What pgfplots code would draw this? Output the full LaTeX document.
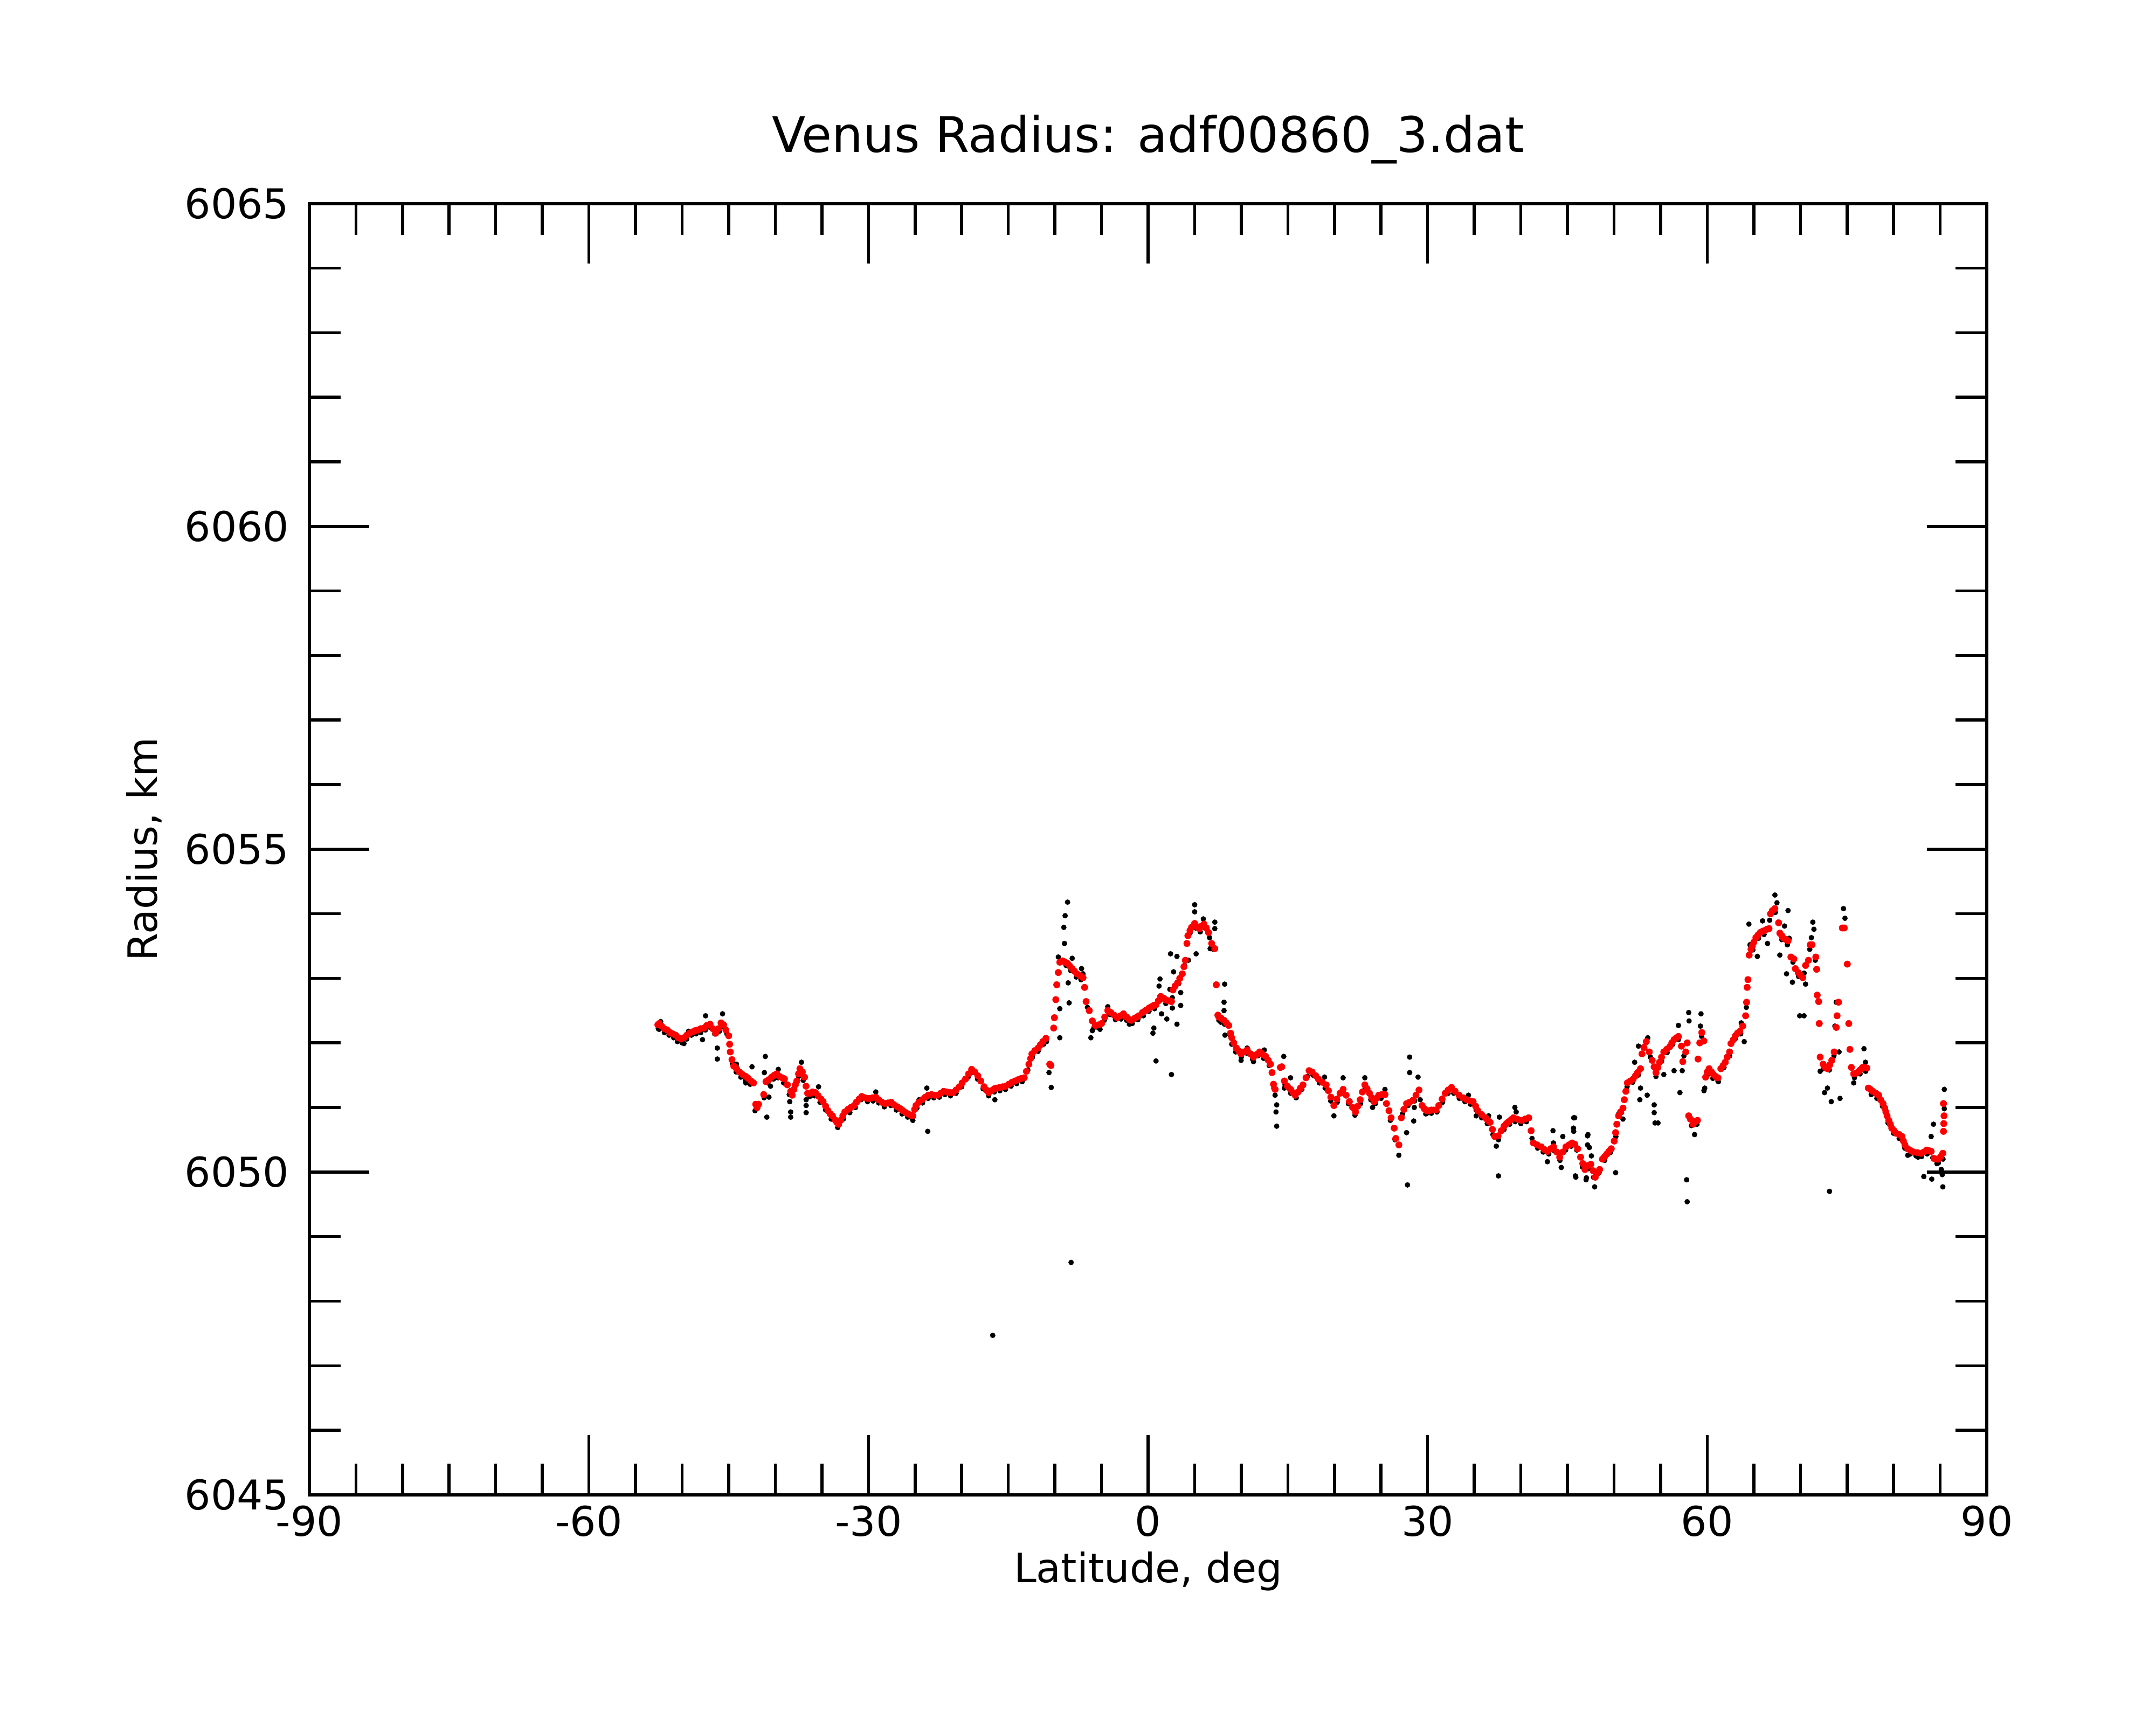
\documentclass[border=0pt]{standalone}
\usepackage{fontspec}
\setmainfont{DejaVu Sans}
\usepackage{pgfplots}
\pgfplotsset{compat=1.18}
\begin{document}
\begin{tikzpicture}
\path[use as bounding box] (-103.3pt,-76.7pt) rectangle ++(720pt,576pt);
\begin{axis}[
  at={(0pt,0pt)}, anchor=south west,
  scale only axis, width=560.2pt, height=431.3pt,
  xmin=-90, xmax=90, ymin=6045, ymax=6065,
  xtick={-90,-60,-30,0,30,60,90},
  xticklabels={-90,-60,-30,0,30,60,90},
  ytick={6045,6050,6055,6060,6065},
  yticklabels={6045,6050,6055,6060,6065},
  minor x tick num=5, minor y tick num=4,
  xtick pos=both, ytick pos=both,
  tick align=inside,
  major tick length=20pt, minor tick length=10.5pt,
  tick style={line width=1pt, black},
  axis line style={line width=1pt},
  ticklabel style={font=\fontsize{13.7}{16}\selectfont},
  yticklabel style={xshift=-3.2pt},
  xlabel={Latitude, deg}, ylabel={Radius, km},
  xlabel style={font=\fontsize{13.5}{16}\selectfont, at={(axis description cs:0.5,-0.0677)}, anchor=base},
  ylabel style={font=\fontsize{13.5}{16}\selectfont, at={(axis description cs:-0.0907,0.5)}, anchor=base, rotate=0},
  title={Venus Radius: adf00860\_3.dat},
  title style={font=\fontsize{16.4}{20}\selectfont, at={(axis description cs:0.5,1.026)}, anchor=base},
]
% raw measurements (black)
\addplot[only marks, mark=*, mark size=0.85pt, mark options={line width=0.1pt, draw=black, fill=black}] table {
x y
-52.55 6052.22
-52.3 6052.33
-51.9 6052.16
-51.4 6052.12
-50.9 6052.08
-50.5 6052.02
-50.0 6052.00
-49.5 6052.06
-49.0 6052.12
-48.5 6052.14
-48.0 6052.16
-47.5 6052.20
-47.0 6052.24
-46.5 6052.14
-46.0 6052.18
-45.7 6052.26
-45.2 6052.14
-44.6 6051.68
-44.2 6051.55
-43.7 6051.47
-43.2 6051.42
-42.7 6051.36
-42.0 6050.98
-41.2 6051.15
-40.8 6051.38
-40.2 6051.44
-39.7 6051.46
-39.1 6051.38
-38.5 6051.20
-37.5 6051.48
-37.0 6051.42
-36.3 6051.17
-35.8 6051.18
-35.2 6051.08
-34.6 6050.96
-34.0 6050.82
-33.3 6050.69
-32.7 6050.82
-32.0 6050.92
-31.4 6051.00
-30.8 6051.12
-30.1 6051.09
-29.5 6051.10
-28.9 6051.07
-28.3 6051.01
-27.6 6051.03
-27.0 6050.96
-26.4 6050.90
-25.8 6050.85
-25.3 6050.82
-24.8 6050.99
-24.2 6051.07
-23.6 6051.14
-23.0 6051.15
-22.4 6051.16
-21.8 6051.20
-21.2 6051.18
-20.6 6051.22
-20.0 6051.32
-19.3 6051.47
-18.9 6051.54
-18.3 6051.44
-17.7 6051.29
-17.1 6051.18
-16.5 6051.24
-15.9 6051.26
-15.3 6051.28
-14.7 6051.33
-14.1 6051.37
-13.5 6051.40
-12.9 6051.58
-12.4 6051.78
-11.8 6051.87
-11.2 6051.98
-10.9 6052.02
-8.8 6053.20
-8.3 6053.12
-7.7 6053.02
-7.2 6052.98
-6.5 6052.55
-5.8 6052.24
-5.3 6052.23
-4.7 6052.35
-4.1 6052.44
-3.5 6052.36
-2.9 6052.37
-2.3 6052.35
-1.7 6052.30
-1.1 6052.36
-0.5 6052.42
0.1 6052.49
0.7 6052.53
1.3 6052.66
1.9 6052.61
2.6 6052.70
3.3 6052.92
3.9 6053.20
4.5 6053.70
5.1 6053.78
5.6 6053.72
6.1 6053.78
6.6 6053.63
7.0 6053.45
7.6 6052.35
8.2 6052.29
8.8 6052.12
9.4 6051.86
10.0 6051.78
10.6 6051.84
11.2 6051.75
11.8 6051.80
12.4 6051.76
13.0 6051.65
13.5 6051.30
14.7 6051.35
15.3 6051.22
15.9 6051.15
16.5 6051.28
17.1 6051.48
17.7 6051.50
18.4 6051.38
19.0 6051.30
19.6 6051.10
20.3 6051.08
20.9 6051.22
21.5 6051.06
22.2 6050.88
22.8 6051.06
23.3 6051.30
23.9 6051.12
24.4 6051.06
25.0 6051.14
25.5 6051.06
26.0 6050.80
26.5 6050.50
27.3 6050.90
27.9 6051.03
28.6 6051.10
29.2 6051.12
29.8 6050.90
30.4 6050.91
31.0 6050.93
31.6 6051.08
32.2 6051.22
32.8 6051.22
33.4 6051.14
34.0 6051.09
34.6 6051.05
35.2 6050.96
35.8 6050.84
36.4 6050.75
37.0 6050.58
37.6 6050.50
38.2 6050.66
38.8 6050.74
39.4 6050.78
40.0 6050.75
40.6 6050.78
41.2 6050.52
41.8 6050.37
42.4 6050.31
43.0 6050.28
43.6 6050.33
44.2 6050.18
44.8 6050.34
45.4 6050.40
46.0 6050.34
46.6 6050.08
47.2 6050.05
47.8 6049.92
48.4 6049.99
49.0 6050.18
49.6 6050.30
50.2 6050.55
50.8 6050.92
51.4 6051.32
52.0 6051.39
52.6 6051.50
53.3 6051.92
53.9 6051.78
54.5 6051.48
55.1 6051.72
55.7 6051.85
56.3 6051.98
56.9 6052.05
57.5 6051.80
58.3 6050.72
58.9 6050.74
59.4 6052.10
60.0 6051.50
60.6 6051.45
61.2 6051.40
61.8 6051.62
62.4 6051.80
63.0 6052.06
63.6 6052.14
64.2 6052.55
64.9 6053.44
65.5 6053.62
66.1 6053.68
66.7 6053.90
67.3 6054.02
68.0 6053.60
68.6 6053.52
69.2 6053.25
69.8 6053.03
70.4 6053.08
71.0 6053.45
71.6 6053.28
72.5 6051.60
73.1 6051.58
73.6 6051.80
75.8 6051.46
76.4 6051.52
77.0 6051.56
77.6 6051.20
78.2 6051.14
78.8 6051.02
79.4 6050.76
80.0 6050.60
80.6 6050.52
81.2 6050.37
81.8 6050.28
82.4 6050.25
83.0 6050.24
83.6 6050.28
84.2 6050.22
84.8 6050.14
85.3 6050.20
-52.46 6052.21
-51.8 6052.18
-49.8 6051.99
-49.31 6052.18
-48.5 6052.20
-47.81 6052.05
-47.48 6052.42
-45.66 6052.45
-46.22 6051.92
-46.22 6051.75
-44.16 6051.67
-43.17 6051.38
-42.5 6051.63
-42.17 6050.95
-41.07 6051.79
-41.17 6051.54
-40.51 6051.33
-40.68 6051.16
-40.91 6050.85
-39.68 6051.59
-38.45 6051.09
-38.35 6050.93
-38.35 6050.85
-37.19 6051.70
-36.69 6051.12
-36.69 6051.03
-36.69 6050.92
-35.36 6051.32
-29.22 6051.24
-25.24 6050.80
-24.57 6051.12
-23.74 6051.30
-23.64 6050.63
-16.67 6047.47
-16.44 6051.12
-10.63 6051.54
-10.39 6051.31
-9.63 6053.33
-9.47 6052.08
-9.47 6052.53
-8.97 6053.54
-9.04 6053.79
-8.9 6053.97
-8.64 6054.18
-8.57 6052.93
-8.47 6052.62
-8.26 6048.60
-8.14 6053.31
-7.14 6053.15
-6.98 6053.07
-6.14 6052.08
-5.98 6052.19
-5.15 6052.21
-4.32 6052.56
-2.0 6052.29
5.0 6054.14
5.0 6054.03
5.93 6053.92
7.16 6053.87
7.16 6053.77
6.66 6053.46
5.16 6053.38
4.33 6053.28
2.41 6053.38
3.1 6053.34
2.74 6053.10
1.28 6052.99
1.18 6052.88
2.34 6052.83
3.5 6052.78
3.5 6052.58
2.61 6052.54
1.45 6052.45
2.01 6052.37
3.1 6052.29
0.62 6052.23
0.52 6052.15
0.85 6051.72
2.51 6051.51
8.22 6052.91
8.15 6052.63
8.15 6052.50
8.25 6052.12
7.8 6052.32
8.98 6051.98
9.98 6051.73
10.64 6051.92
11.31 6051.71
12.47 6051.89
14.56 6051.79
14.63 6051.30
15.29 6051.46
13.63 6051.19
13.8 6051.04
13.73 6050.93
13.8 6050.71
18.94 6051.47
19.94 6050.87
20.93 6051.46
23.26 6051.46
24.09 6051.00
25.42 6051.28
26.91 6050.26
27.74 6050.61
27.84 6049.80
28.07 6051.78
28.07 6051.54
28.97 6051.47
28.57 6051.00
28.5 6050.79
29.9 6050.91
34.38 6051.19
35.21 6050.87
36.54 6050.87
37.37 6050.40
37.6 6049.94
37.7 6050.85
39.36 6051.00
39.5 6050.93
42.85 6050.16
43.45 6050.64
43.5 6050.45
44.34 6050.07
44.5 6050.55
45.67 6050.84
45.67 6050.63
45.9 6049.92
47.16 6050.56
47.16 6050.42
47.0 6049.88
45.78 6050.84
45.65 6050.68
45.85 6049.94
47.2 6050.58
47.35 6050.38
47.57 6050.25
47.04 6049.91
47.92 6049.77
50.17 6049.99
50.5 6050.90
50.96 6050.82
52.21 6051.70
52.62 6051.95
52.84 6051.30
52.77 6051.12
53.56 6051.19
53.62 6052.08
54.31 6051.04
54.31 6050.92
54.72 6050.76
54.4 6050.76
55.34 6051.51
56.44 6051.57
56.91 6052.27
57.07 6051.23
57.32 6051.57
58.01 6052.47
58.05 6052.34
59.33 6052.45
59.27 6052.26
57.79 6049.88
57.85 6049.54
58.64 6050.58
59.73 6051.30
59.65 6051.26
61.15 6051.41
63.65 6052.31
63.97 6052.02
64.47 6053.84
64.59 6053.52
65.38 6053.34
65.94 6053.89
66.47 6053.54
67.26 6054.29
67.48 6054.17
68.67 6054.05
68.29 6053.81
68.8 6053.62
67.79 6053.36
68.51 6053.07
69.14 6052.94
69.92 6052.42
70.39 6052.42
70.55 6052.91
71.33 6053.87
71.18 6053.63
71.45 6053.76
72.12 6051.56
72.59 6051.23
72.9 6051.30
73.31 6051.09
74.25 6051.14
73.84 6052.63
73.7 6052.26
74.15 6051.86
73.12 6049.70
74.62 6054.08
74.78 6053.93
75.72 6051.38
76.82 6051.91
76.98 6051.70
81.52 6050.26
82.62 6050.23
83.24 6049.93
84.09 6049.89
84.03 6050.55
84.28 6050.74
84.65 6050.13
85.12 6050.04
85.22 6049.96
85.28 6049.77
85.44 6051.28
85.44 6050.98
};
% smoothed profile (red)
\addplot[only marks, mark=*, mark size=1.1pt, mark options={line width=0.1pt, draw=red, fill=red}] table {
x y
-52.6 6052.28
-52.46 6052.30
-52.2 6052.26
-51.9 6052.22
-51.6 6052.20
-51.3 6052.16
-51.0 6052.14
-50.7 6052.12
-50.4 6052.08
-50.1 6052.06
-49.8 6052.08
-49.5 6052.12
-49.2 6052.15
-48.9 6052.17
-48.6 6052.19
-48.3 6052.20
-48.0 6052.22
-47.65 6052.23
-47.35 6052.27
-47.0 6052.29
-46.7 6052.22
-46.4 6052.15
-46.1 6052.22
-45.82 6052.31
-45.55 6052.28
-45.3 6052.20
-45.0 6052.11
-44.9 6051.98
-44.83 6051.86
-44.65 6051.74
-44.45 6051.64
-44.16 6051.60
-43.85 6051.55
-43.5 6051.51
-43.17 6051.48
-42.9 6051.45
-42.6 6051.41
-42.34 6051.38
-42.1 6051.05
-41.95 6051.00
-41.8 6051.05
-41.24 6051.20
-41.0 6051.40
-40.7 6051.43
-40.4 6051.47
-40.1 6051.50
-39.85 6051.52
-39.55 6051.48
-39.25 6051.46
-39.02 6051.44
-38.7 6051.35
-38.35 6051.25
-38.19 6051.19
-38.0 6051.28
-37.85 6051.35
-37.69 6051.41
-37.5 6051.52
-37.36 6051.60
-37.1 6051.55
-36.86 6051.47
-36.7 6051.33
-36.53 6051.22
-36.25 6051.22
-36.0 6051.24
-35.7 6051.23
-35.4 6051.18
-35.1 6051.13
-34.87 6051.09
-34.6 6051.02
-34.35 6050.95
-34.1 6050.90
-33.87 6050.87
-33.6 6050.81
-33.4 6050.77
-33.21 6050.74
-33.0 6050.80
-32.75 6050.87
-32.54 6050.93
-32.2 6050.97
-31.9 6051.00
-31.55 6051.03
-31.3 6051.08
-31.0 6051.13
-30.72 6051.17
-30.4 6051.15
-30.1 6051.14
-29.89 6051.14
-29.55 6051.15
-29.22 6051.16
-28.9 6051.12
-28.55 6051.08
-28.22 6051.06
-27.9 6051.07
-27.56 6051.08
-27.25 6051.04
-26.9 6051.01
-26.57 6050.98
-26.3 6050.95
-26.0 6050.92
-25.74 6050.90
-25.45 6050.88
-25.24 6050.87
-25.05 6050.97
-24.9 6051.03
-24.6 6051.08
-24.24 6051.12
-23.9 6051.16
-23.58 6051.19
-23.25 6051.20
-22.9 6051.19
-22.58 6051.19
-22.25 6051.22
-21.92 6051.25
-21.6 6051.24
-21.25 6051.23
-20.92 6051.23
-20.6 6051.27
-20.26 6051.32
-19.95 6051.38
-19.59 6051.44
-19.25 6051.52
-18.93 6051.59
-18.6 6051.55
-18.27 6051.49
-17.95 6051.41
-17.6 6051.32
-17.35 6051.27
-17.1 6051.23
-16.8 6051.26
-16.5 6051.29
-16.27 6051.30
-15.95 6051.31
-15.6 6051.32
-15.28 6051.33
-14.95 6051.36
-14.6 6051.39
-14.28 6051.41
-13.95 6051.43
-13.6 6051.45
-13.29 6051.46
-13.05 6051.56
-12.79 6051.67
-12.6 6051.76
-12.46 6051.83
-12.15 6051.88
-11.79 6051.92
-11.55 6051.97
-11.29 6052.02
-10.96 6052.07
-10.55 6051.67
-10.42 6051.65
-10.13 6052.23
-10.05 6052.39
-9.9 6052.67
-9.8 6052.90
-9.63 6053.09
-9.47 6053.25
-9.15 6053.27
-8.9 6053.25
-8.64 6053.23
-8.4 6053.19
-8.14 6053.15
-7.9 6053.11
-7.64 6053.07
-7.3 6053.04
-6.98 6053.01
-6.81 6052.86
-6.65 6052.64
-6.31 6052.50
-5.98 6052.34
-5.65 6052.27
-5.3 6052.28
-4.99 6052.30
-4.65 6052.40
-4.32 6052.50
-4.0 6052.47
-3.65 6052.43
-3.3 6052.39
-2.95 6052.42
-2.64 6052.45
-2.3 6052.40
-2.0 6052.36
-1.81 6052.35
-1.45 6052.38
-1.2 6052.40
-0.98 6052.42
-0.6 6052.47
-0.3 6052.50
-0.15 6052.51
0.1 6052.54
0.35 6052.56
0.6 6052.58
0.85 6052.59
1.1 6052.65
1.35 6052.72
1.7 6052.69
2.01 6052.66
2.3 6052.65
2.51 6052.64
2.67 6052.82
2.9 6052.88
3.17 6052.93
3.4 6053.00
3.67 6053.07
3.85 6053.18
4.0 6053.28
4.17 6053.54
4.27 6053.66
4.5 6053.74
4.67 6053.79
5.0 6053.85
5.25 6053.80
5.5 6053.77
5.75 6053.81
6.0 6053.84
6.25 6053.78
6.49 6053.71
6.82 6053.54
7.16 6053.46
7.32 6052.90
7.49 6052.43
7.6 6052.40
7.85 6052.38
8.15 6052.35
8.4 6052.31
8.65 6052.27
8.85 6052.15
8.98 6052.08
9.2 6052.00
9.48 6051.92
9.75 6051.87
9.98 6051.83
10.3 6051.86
10.64 6051.89
11.0 6051.83
11.31 6051.78
11.65 6051.82
11.97 6051.86
12.3 6051.82
12.63 6051.79
12.9 6051.73
13.13 6051.67
13.3 6051.54
13.46 6051.36
13.63 6051.28
14.2 6051.62
14.35 6051.63
14.63 6051.41
14.95 6051.33
15.29 6051.28
15.55 6051.23
15.79 6051.19
16.1 6051.24
16.35 6051.30
16.62 6051.35
16.95 6051.46
17.28 6051.57
17.6 6051.55
18.0 6051.49
18.28 6051.44
18.7 6051.39
19.11 6051.35
19.35 6051.26
19.61 6051.16
19.94 6051.03
20.25 6051.13
20.6 6051.22
20.93 6051.28
21.25 6051.19
21.6 6051.09
21.95 6051.00
22.26 6050.93
22.5 6051.02
22.76 6051.12
23.0 6051.24
23.26 6051.35
23.5 6051.29
23.76 6051.22
24.0 6051.15
24.25 6051.09
24.5 6051.14
24.75 6051.19
25.1 6051.20
25.42 6051.20
25.58 6051.06
25.85 6050.95
26.08 6050.84
26.41 6050.68
26.58 6050.52
26.91 6050.42
27.18 6050.84
27.45 6050.97
27.74 6051.06
28.05 6051.08
28.4 6051.11
28.75 6051.19
29.07 6051.27
29.4 6051.03
29.65 6050.98
29.9 6050.95
30.15 6050.95
30.4 6050.96
30.65 6050.96
30.9 6050.96
31.2 6051.03
31.55 6051.13
31.89 6051.22
32.2 6051.27
32.56 6051.31
32.95 6051.25
33.38 6051.19
33.8 6051.15
34.21 6051.12
34.55 6051.10
34.88 6051.09
35.15 6051.02
35.38 6050.95
35.8 6050.89
36.21 6050.84
36.45 6050.80
36.7 6050.77
36.95 6050.66
37.2 6050.55
37.55 6050.56
37.9 6050.64
38.2 6050.71
38.45 6050.75
38.7 6050.78
38.95 6050.81
39.2 6050.84
39.6 6050.82
40.03 6050.80
40.45 6050.82
40.85 6050.84
41.1 6050.64
41.35 6050.45
41.75 6050.42
42.18 6050.39
42.5 6050.35
42.85 6050.32
43.2 6050.36
43.51 6050.39
43.85 6050.31
44.17 6050.23
44.5 6050.31
44.84 6050.39
45.16 6050.42
45.5 6050.45
45.78 6050.43
46.1 6050.36
46.41 6050.23
46.65 6050.13
46.88 6050.04
47.2 6050.10
47.51 6050.12
47.75 6050.02
47.98 6049.92
48.2 6049.98
48.45 6050.04
48.76 6050.20
49.0 6050.24
49.23 6050.28
49.45 6050.32
49.7 6050.36
50.02 6050.48
50.17 6050.61
50.3 6050.74
50.49 6050.87
50.7 6050.93
50.96 6050.99
51.1 6051.12
51.27 6051.25
51.43 6051.38
51.75 6051.41
52.05 6051.44
52.3 6051.49
52.52 6051.54
52.84 6051.60
53.0 6051.83
53.2 6051.93
53.46 6052.02
53.78 6051.86
54.09 6051.73
54.3 6051.63
54.5 6051.54
54.7 6051.62
54.88 6051.70
55.1 6051.78
55.34 6051.86
55.65 6051.90
55.97 6051.94
56.2 6052.00
56.44 6052.05
56.7 6052.08
56.91 6052.10
57.23 6051.95
57.38 6051.71
57.7 6051.86
57.85 6052.00
58.01 6050.87
58.2 6050.82
58.48 6050.74
58.7 6050.78
58.95 6050.80
59.01 6051.75
59.2 6052.00
59.42 6052.16
59.64 6052.03
59.83 6051.47
60.0 6051.55
60.2 6051.60
60.45 6051.55
60.67 6051.51
60.9 6051.48
61.15 6051.46
61.46 6051.60
61.7 6051.65
61.93 6051.70
62.15 6051.78
62.4 6051.86
62.55 6051.99
62.8 6052.05
63.02 6052.11
63.25 6052.15
63.5 6052.18
63.81 6052.26
64.12 6052.42
64.22 6052.63
64.28 6052.86
64.37 6052.98
64.5 6053.36
64.7 6053.45
64.84 6053.50
65.0 6053.56
65.22 6053.63
65.45 6053.67
65.69 6053.71
65.95 6053.73
66.16 6053.74
66.4 6053.76
66.63 6053.77
66.79 6054.00
67.0 6054.05
67.26 6054.08
67.66 6053.86
67.79 6053.70
68.0 6053.66
68.2 6053.62
68.45 6053.60
68.67 6053.58
68.98 6053.33
69.3 6053.30
69.45 6053.15
69.77 6053.09
70.0 6053.05
70.24 6053.01
70.55 6053.20
70.86 6053.28
71.05 6053.52
71.25 6053.52
71.65 6053.33
71.74 6053.14
71.8 6052.74
71.96 6052.64
72.02 6052.30
72.12 6051.78
72.43 6051.67
72.65 6051.62
72.9 6051.60
73.15 6051.66
73.37 6051.73
73.62 6051.86
73.84 6052.24
73.93 6052.42
74.09 6052.63
74.5 6053.78
74.7 6053.78
75.03 6053.22
75.19 6052.30
75.31 6051.90
75.47 6051.62
75.72 6051.52
75.95 6051.53
76.19 6051.55
76.4 6051.58
76.66 6051.62
76.9 6051.62
77.13 6051.61
77.29 6051.30
77.5 6051.28
77.76 6051.25
78.1 6051.22
78.39 6051.19
78.6 6051.12
78.86 6051.06
79.05 6050.99
79.17 6050.93
79.3 6050.87
79.48 6050.80
79.65 6050.74
79.8 6050.68
80.05 6050.64
80.27 6050.60
80.6 6050.58
80.9 6050.55
81.05 6050.48
81.21 6050.42
81.52 6050.36
81.85 6050.33
82.15 6050.31
82.55 6050.30
82.93 6050.29
83.25 6050.31
83.56 6050.34
83.8 6050.33
84.03 6050.32
84.34 6050.21
84.6 6050.20
84.81 6050.20
85.05 6050.24
85.28 6050.29
85.35 6050.63
85.38 6050.75
85.41 6050.87
85.35 6051.06
};
\end{axis}
\end{tikzpicture}
\end{document}
